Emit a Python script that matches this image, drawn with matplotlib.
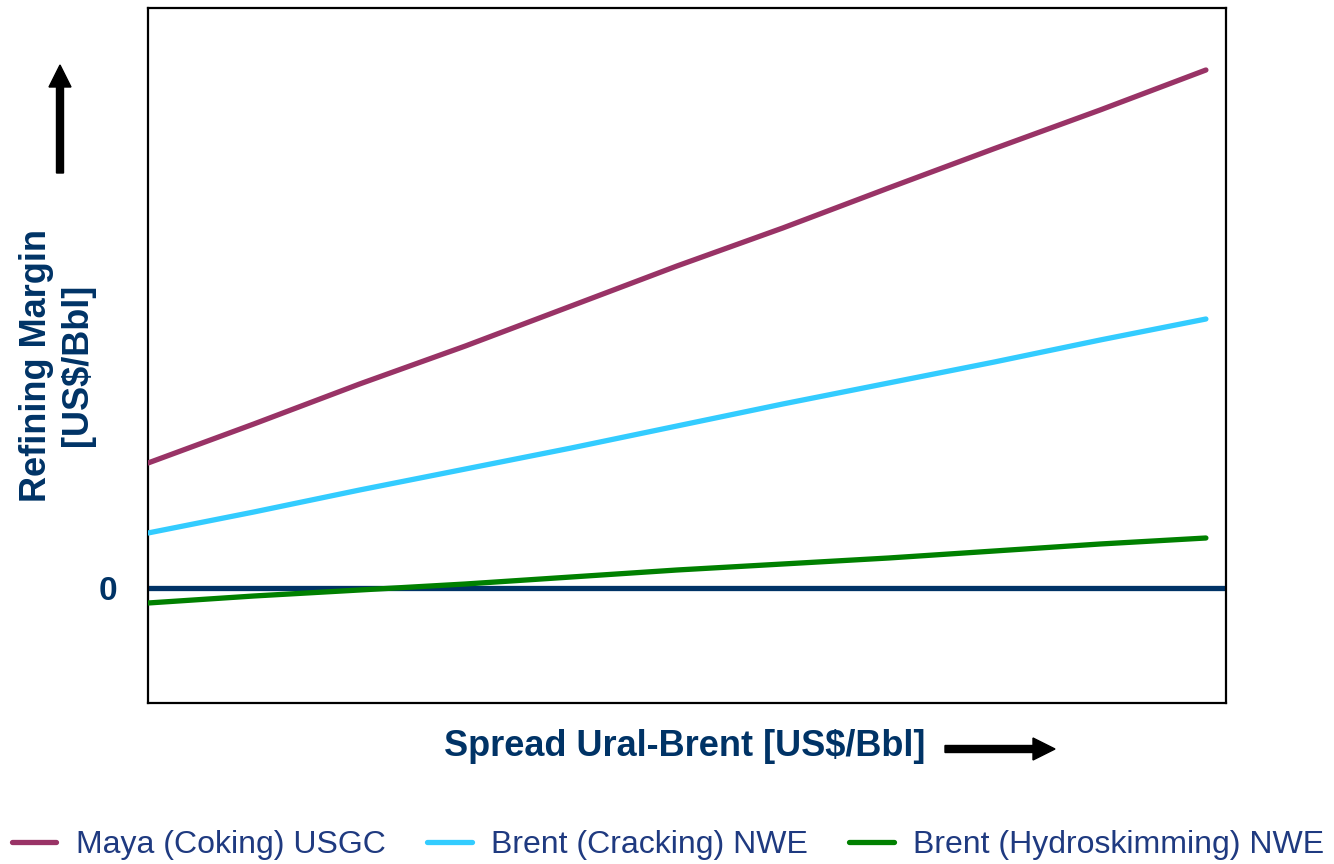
import matplotlib
matplotlib.use("Agg")
import matplotlib.pyplot as plt
from matplotlib.patches import FancyArrow

plt.rcParams['font.family'] = ['Liberation Sans', 'DejaVu Sans']

# Spread Ural-Brent (relative scale)
spread = [0, 1, 2, 3, 4, 5, 6, 7, 8, 9, 10]

# Refining margins (relative scale)
maya_coking_usgc = [6.25, 8.2, 10.2, 12.1, 14.1, 16.1, 18.0, 20.0, 21.97, 23.9, 25.9]
brent_cracking_nwe = [2.75, 3.8, 4.9, 5.95, 7.0, 8.1, 9.2, 10.25, 11.3, 12.4, 13.45]
brent_hydroskimming_nwe = [-0.75, -0.4, -0.1, 0.2, 0.55, 0.9, 1.2, 1.5, 1.85, 2.2, 2.5]

series_labels = ["Maya (Coking) USGC", "Brent (Cracking) NWE", "Brent (Hydroskimming) NWE"]
series_colors = ["#993366", "#33CCFF", "#008000"]

NAVY = "#003366"
LEGEND_TEXT = "#1F3A80"

W, H = 1334, 864
fig = plt.figure(figsize=(W / 100, H / 100), dpi=100)
ax = fig.add_axes([148 / W, 1 - 703 / H, (1226 - 148) / W, (703 - 8) / H])

# zero reference line
ax.axhline(0, color=NAVY, lw=3.8, zorder=2, solid_capstyle='round')

for vals, lab, col in zip([maya_coking_usgc, brent_cracking_nwe, brent_hydroskimming_nwe],
                          series_labels, series_colors):
    ax.plot(spread, vals, color=col, lw=3.8, label=lab, zorder=3,
            solid_capstyle='round', solid_joinstyle='round')

ax.set_xlim(0, 10.19)
ax.set_ylim(-5.75, 29.0)
ax.set_xticks([])
ax.set_yticks([0])
ax.set_yticklabels(["0"], fontsize=24, fontweight='bold', color=NAVY)
ax.tick_params(axis='y', length=0, pad=22)
for sp in ax.spines.values():
    sp.set_color("black")
    sp.set_linewidth(1.6)

# axis titles
fig.text(57 / W, 1 - 365 / H, "Refining Margin\n[US$/Bbl]", rotation=90,
         ha='center', va='center', multialignment='center',
         fontsize=26, fontweight='bold', color=NAVY, linespacing=1.2)
fig.text(685 / W, 1 - 747 / H, "Spread Ural-Brent [US$/Bbl]",
         ha='center', va='center', fontsize=26, fontweight='bold', color=NAVY)

# direction arrows
up = FancyArrow(0.60, (H - 173) / 100, 0, (173 - 65) / 100, width=0.07,
                head_width=0.22, head_length=0.22, length_includes_head=True,
                color='black', transform=fig.dpi_scale_trans)
right = FancyArrow(9.45, (H - 749) / 100, 1.10, 0, width=0.07,
                   head_width=0.22, head_length=0.22, length_includes_head=True,
                   color='black', transform=fig.dpi_scale_trans)
fig.patches.extend([up, right])

fig.legend(loc='center', bbox_to_anchor=(668 / W, 19 / H), ncol=3, frameon=False,
           fontsize=23, labelcolor=LEGEND_TEXT, handlelength=1.4,
           handletextpad=0.6, columnspacing=1.3, borderpad=0, borderaxespad=0)

fig.savefig("out.png", dpi=100)
